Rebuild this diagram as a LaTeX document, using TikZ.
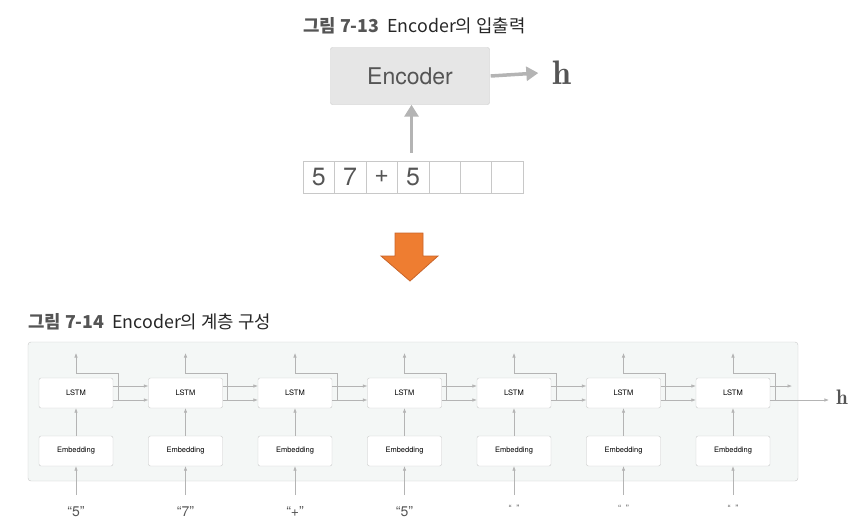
\documentclass[tikz,border=0pt]{standalone}
\usepackage{fix-cm}
\usepackage{fontspec}
\usepackage{xcolor}
\usetikzlibrary{arrows.meta,positioning}
\setsansfont{TeX Gyre Heros}
\newfontfamily\krfont{Noto Sans CJK KR}
\definecolor{boxgray}{HTML}{C8C8C8}
\definecolor{linegray}{HTML}{B4B4B4}
\definecolor{textgray}{HTML}{555555}
\definecolor{encfill}{HTML}{E6E6E6}
\definecolor{panelfill}{HTML}{F4F7F6}
\definecolor{arroworange}{HTML}{EE7D31}
\definecolor{arrowedge}{HTML}{C8642A}
\tikzset{basic/.style={draw=boxgray,fill=white,rounded corners=2pt,
                       font=\sffamily\fontsize{7.5}{8}\selectfont,
                       minimum width=74pt,minimum height=30pt,inner sep=0pt}}
\tikzset{cell/.style={draw=boxgray,minimum width=31.4pt,minimum height=32pt,
                      inner sep=0pt,text=textgray,
                      font=\sffamily\fontsize{25}{25}\selectfont}}

\begin{document}
\begin{tikzpicture}[x=1pt,y=-1pt,
    % styles for clarity
    caption/.style ={anchor=west, inner sep=0pt, text=black!85,
                     font=\krfont\fontsize{17.8}{18}\selectfont},
    encbox/.style  ={draw=boxgray, fill=encfill, rounded corners=2pt,
                     minimum width=159pt, minimum height=57pt, text=textgray,
                     font=\sffamily\fontsize{23}{23}\selectfont},
    bigarrow/.style={draw=linegray, line width=3.5pt,
                     -{Triangle[length=12pt,width=14pt]}},
    wire/.style    ={draw=linegray, line width=0.6pt},
    arrow/.style   ={wire, -{Latex[length=4.5pt,width=3.5pt]}},
    token/.style   ={text=textgray, font=\sffamily\fontsize{14}{14}\selectfont},
    blank/.style   ={text=textgray, font=\sffamily\fontsize{9}{9}\selectfont},
    hvec/.style    ={inner sep=0pt, text=textgray},
    panel/.style   ={draw=boxgray, fill=panelfill, rounded corners=3pt}
  ]
    \useasboundingbox (0,0) rectangle (860,523);

    % Figure 7-13
    \node[caption](cap1) at (303,26) {{\bfseries\color{textgray}그림 7-13}\ \ Encoder의 입출력};
    \node[encbox](enc) at (410,76) {Encoder};
    \node[hvec, font=\fontsize{34}{34}\selectfont](h1) at (562,73) {$\mathbf{h}$};
    \draw[bigarrow] ([xshift=1pt]enc.east) -- ([xshift=-14pt]h1.west);

    \foreach \i/\t in {1/5,2/7,3/+,4/5,5/{},6/{},7/{}}
      \node[cell](c\i) at ({303+31.43*(\i-0.5)},177) {\t};
    \coordinate (feed) at ([yshift=8pt,xshift=-1.5pt]c4.north);
    \draw[bigarrow] (feed) -- (feed |- enc.south);

    % orange arrow
    \filldraw[fill=arroworange, draw=arrowedge, line width=0.8pt]
      (395,233) -- (423,233) -- (423,256) -- (438,256) -- (410,281)
      -- (381,256) -- (395,256) -- cycle;

    % Figure 7-14
    \node[caption](cap2) at (28,322) {{\bfseries\color{textgray}그림 7-14}\ \ Encoder의 계층 구성};
    \draw[panel] (28,342) rectangle (798,481);

    \foreach \i/\t in {0/5,1/7,2/+,3/5} {
      \node[token](in\i) at ({76+109.5*\i},512) {“\t”};
    }
    \foreach \i in {4,5,6} {
      \node[blank](in\i) at ({76+109.5*\i},508) {“\ \ ”};
    }

    \foreach \i in {0,...,6} {
      \node[basic](lstm\i) at ({76+109.5*\i},393) {LSTM};
      \node[basic](emb\i) at ({76+109.5*\i},451) {Embedding};
      \coordinate (src\i) at ({76+109.5*\i},495);
      \coordinate (out\i) at ({76+109.5*\i},353);
      \coordinate (fork\i) at ([xshift=5pt,yshift=20pt]lstm\i.east);
      \draw[arrow] (src\i) -- (emb\i);
      \draw[arrow] (emb\i) -- (lstm\i);
      \draw[wire] (fork\i) -- ([xshift=5pt,yshift=-7pt]lstm\i.east);
      \draw[arrow] (fork\i) -| (out\i);
    }

    \foreach \i [count=\j from 1] in {0,...,5} {
      \draw[arrow] ([yshift=7pt]lstm\i.east) -- ([yshift=7pt]lstm\j.west);
      \draw[arrow] ([yshift=-7pt]lstm\i.east) -- ([yshift=-7pt]lstm\j.west);
    }

    \coordinate (hout) at (792,386);
    \node[hvec, font=\fontsize{21}{21}\selectfont](h2) at (842,397) {$\mathbf{h}$};
    \draw[arrow] ([yshift=7pt]lstm6.east) -- (hout);
    \draw[arrow] ([yshift=-7pt]lstm6.east) -- ([yshift=-7pt,xshift=-7pt]lstm6.east -| h2.west);
  \end{tikzpicture}
\end{document}
